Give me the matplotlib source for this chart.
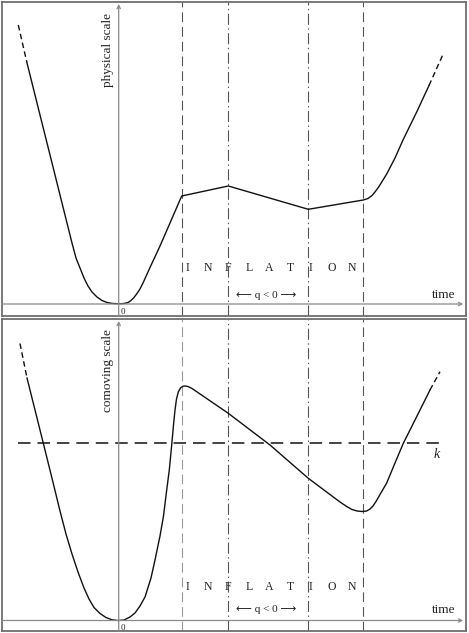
import numpy as np
import matplotlib
matplotlib.use('Agg')
import matplotlib.pyplot as plt

plt.rcParams['lines.scale_dashes'] = False
SERIF = ['Liberation Serif', 'DejaVu Serif']
ARROWS = ['Liberation Serif', 'DejaVu Sans']

# time axis (arbitrary units, 0 = big bang)
t_phys = [-9.2, -7.87, -6.7, -5.87, -5.27, -4.67, -4.27, -3.87, -3.47, -3.07, -2.67,
          -2.17, -1.67, -1.17, -0.67, -0.17, 0.33, 0.63, 0.93, 1.23, 1.53, 1.83,
          2.13, 2.43, 3.13, 4.13, 5.13, 6.3, 10.96, 18.96, 24.46, 24.93, 25.33,
          25.63, 26.03, 26.43, 26.8, 27.63, 28.43, 29.8, 31.03]
a_phys = [24.23, 18.9, 14.23, 10.9, 8.5, 6.1, 4.6, 3.6, 2.6, 1.8, 1.2,
          0.7, 0.35, 0.15, 0.06, 0.03, 0.03, 0.07, 0.15, 0.35, 0.65, 1.05,
          1.5, 2.1, 3.65, 5.8, 8.1, 10.8, 11.8, 9.47, 10.4, 10.55, 10.85,
          11.2, 11.75, 12.4, 13.0, 14.6, 16.4, 19.2, 21.85]
t_phys_early = [-10.04, -9.2]
a_phys_early = [27.9, 24.23]
t_phys_late = [31.03, 32.4]
a_phys_late = [21.85, 24.9]

t_com = [-9.17, -7.87, -6.7, -5.87, -5.27, -4.67, -4.07, -3.47, -2.97, -2.47, -1.87,
         -1.27, -0.67, -0.07, 0.53, 1.13, 1.63, 2.13, 2.63, 3.23, 3.63, 4.13,
         4.48, 4.8, 5.06, 5.3, 5.48, 5.63, 5.78, 5.96, 6.18, 6.43, 6.63, 6.93,
         7.33, 7.8, 10.96, 15.13, 18.96, 22.13, 22.8, 23.33, 23.83, 24.33, 24.8,
         25.13, 25.43, 25.73, 26.13, 26.8, 27.63, 28.46, 29.33, 30.13, 31.13]
c_com = [24.25, 19.05, 14.35, 10.95, 8.65, 6.65, 4.85, 3.25, 2.15, 1.3, 0.7,
         0.3, 0.07, 0.0, 0.05, 0.35, 0.75, 1.45, 2.35, 4.25, 6.05, 8.45,
         10.45, 13.05, 15.05, 17.55, 19.55, 21.05, 22.15, 22.85, 23.25, 23.43, 23.45, 23.4,
         23.2, 22.88, 20.72, 17.55, 14.22, 11.85, 11.4, 11.1, 10.95, 10.9, 10.95,
         11.15, 11.45, 11.9, 12.6, 13.75, 15.75, 17.72, 19.45, 21.05, 23.05]
t_com_early = [-9.87, -9.17]
c_com_early = [27.7, 24.25]
t_com_late = [31.13, 32.13]
c_com_late = [23.05, 24.88]

k_level = 17.72
k_span = [-10.04, 32.63]

# epochs: start of inflation, q<0 begins, q<0 ends, end of inflation
t_epochs = [6.3, 10.95, 18.95, 24.45]
epoch_styles = ['dashed', 'dashdot', 'dashdot', 'dashed']

letters = list('INFLATION')

fig = plt.figure(figsize=(4.69, 6.33), dpi=100)
W, H = 469, 633
ax_top = fig.add_axes([2 / W, (H - 316) / H, 464 / W, 314 / H])
ax_bot = fig.add_axes([2 / W, (H - 631) / H, 464 / W, 312 / H])

AX_COL = '#8a8a8a'
VL_COL = '#555555'
CURVE = '#111111'


def vline_style(style):
    if style == 'dashed':
        return (0, (7, 3.6))
    return (0, (8, 2.5, 1, 2.5))


def setup(ax, ylim, ylabel, label_y, infl_y, q_y, first_col):
    ax.set_xlim(-11.67, 34.73)
    ax.set_ylim(*ylim)
    ax.set_xticks([])
    ax.set_yticks([])
    for s in ax.spines.values():
        s.set_color('#6e6e6e')
        s.set_linewidth(1.3)
    # axes with arrows
    ax.annotate('', xy=(34.45, 0), xytext=(-11.67, 0),
                arrowprops=dict(arrowstyle='->', color=AX_COL, lw=0.9,
                                shrinkA=0, shrinkB=0, mutation_scale=6))
    ax.annotate('', xy=(0, ylim[1] - 0.2), xytext=(0, ylim[0]),
                arrowprops=dict(arrowstyle='->', color=AX_COL, lw=0.9,
                                shrinkA=0, shrinkB=0, mutation_scale=6))
    cols = [first_col, VL_COL, VL_COL, VL_COL]
    for t, st, col in zip(t_epochs, epoch_styles, cols):
        ax.axvline(t, color=col, lw=0.8, linestyle=vline_style(st))
    ax.text(-1.07, label_y, ylabel, rotation=90, ha='center', va='center',
            family=SERIF, fontsize=9.5, color='#222222')
    ax.text(0.45, ylim[0] + 0.35, '0', ha='center', va='center',
            family=SERIF, fontsize=6.5, color='#222222')
    ax.text(33.7, q_y, 'time', ha='right', va='center',
            family=SERIF, fontsize=9.5, color='#222222')
    for x, ch in zip(np.linspace(6.83, 23.33, len(letters)), letters):
        ax.text(x, infl_y, ch, ha='center', va='center',
                family=SERIF, fontsize=8.5, color='#222222')
    ax.text(14.73, q_y, '\u27f5 q < 0 \u27f6', ha='center', va='center',
            family=ARROWS, fontsize=8, color='#222222')


setup(ax_top, (-1.2, 30.2), 'physical scale', 25.4, 3.6, 0.9, VL_COL)
ax_top.plot(t_phys, a_phys, color=CURVE, lw=1.0)
ax_top.plot(t_phys_early, a_phys_early, color=CURVE, lw=1.0, linestyle=(0, (4, 2.5)))
ax_top.plot(t_phys_late, a_phys_late, color=CURVE, lw=1.0, linestyle=(0, (4, 2.5)))

setup(ax_bot, (-1.05, 30.15), 'comoving scale', 24.95, 3.35, 1.05, '#999999')
ax_bot.plot(t_com, c_com, color=CURVE, lw=1.0)
ax_bot.plot(t_com_early, c_com_early, color=CURVE, lw=1.0, linestyle=(0, (4, 2.5)))
ax_bot.plot(t_com_late, c_com_late, color=CURVE, lw=1.0, linestyle=(0, (4, 2.5)))
ax_bot.plot(k_span, [k_level, k_level], color=CURVE, lw=1.1, linestyle=(0, (9, 5)))
ax_bot.text(31.8, 16.55, 'k', ha='center', va='center', family=SERIF,
            style='italic', fontsize=10, color='#222222')

fig.savefig('out.png', dpi=100)
